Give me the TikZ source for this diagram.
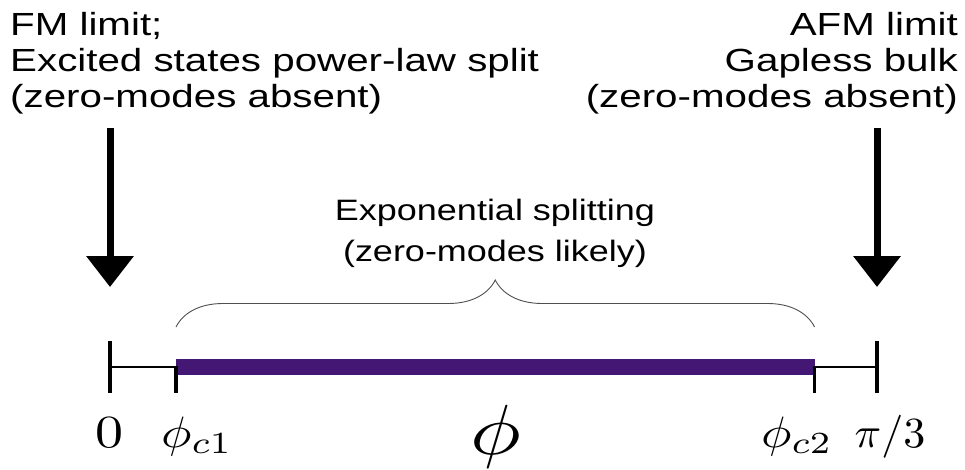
\documentclass[tikz,border=0pt]{standalone}
\usepackage[no-math]{fontspec}
\newfontfamily\labelsans{Liberation Sans}
\usetikzlibrary{arrows.meta,decorations.pathreplacing}
\definecolor{barpurple}{RGB}{69,23,117}
\definecolor{bracegray}{RGB}{80,80,80}
\tikzset{
  tickmark/.style={line width=3.3pt, black},
  thinline/.style={line width=1.3pt, black},
  bigarrow/.style={line width=7pt, -{Triangle[width=46pt,length=31pt]}},
  phasebar/.style={line width=16pt, barpurple},
  bracestyle/.style={bracegray, line width=0.9pt, decorate, decoration={brace, amplitude=47pt}},
  toptext/.style={inner sep=0pt, font=\labelsans\fontsize{32}{36}\selectfont},
  midtext/.style={inner sep=0pt, font=\labelsans\fontsize{29.5}{40}\selectfont},
  mathlabel/.style={inner sep=0pt},
}
\begin{document}
\begin{tikzpicture}[x=1pt,y=1pt]
\useasboundingbox (0,0) rectangle (965,-470);
% axis points
\coordinate (p0) at (110,-367);
\coordinate (pc1) at (176,-367);
\coordinate (pc2) at (814.5,-367);
\coordinate (pend) at (877,-367);
% arrow ends
\coordinate (fmtop) at (110,-128);
\coordinate (fmtip) at (110,-287);
\coordinate (afmtop) at (877,-128);
\coordinate (afmtip) at (877,-287);
% brace ends
\coordinate (bl) at (176,-327);
\coordinate (br) at (814.5,-327);

% thin segments
\draw[thinline] (p0) -- (pc1);
\draw[thinline] (pc2) -- (pend);
% purple bar
\draw[phasebar] (pc1) -- (pc2);
% ticks
\draw[tickmark] ([yshift=26pt]p0) -- ([yshift=-26pt]p0);
\draw[tickmark] ([yshift=1pt]pc1) -- ([yshift=-26pt]pc1);
\draw[tickmark] ([yshift=1pt]pc2) -- ([yshift=-26pt]pc2);
\draw[tickmark] ([yshift=26pt]pend) -- ([yshift=-26pt]pend);

% brace
\draw[bracestyle] (bl) -- (br);

% arrows
\draw[bigarrow] (fmtop) -- (fmtip);
\draw[bigarrow] (afmtop) -- (afmtip);

% texts
\node[toptext, anchor=base west] (fmtext) at (10,-36)
  {\scalebox{1.26}[1]{\begin{tabular}[t]{@{}l@{}}FM limit;\\Excited states power-law split\\(zero-modes absent)\end{tabular}}};
\node[toptext, anchor=base east] (afmtext) at (958,-36)
  {\scalebox{1.26}[1]{\begin{tabular}[t]{@{}r@{}}AFM limit\\Gapless bulk\\(zero-modes absent)\end{tabular}}};
\node[midtext, anchor=base] (exptext) at (495,-221)
  {\scalebox{1.22}[1]{\begin{tabular}[t]{@{}c@{}}Exponential splitting\\(zero-modes likely)\end{tabular}}};

% axis labels
\node[mathlabel, anchor=base] (lzero) at (109,-447) {\scalebox{5.6}[4.6]{$0$}};
\node[mathlabel, anchor=base west] (lc1) at (161,-447) {\scalebox{5.1}[4.4]{$\phi_{c1}$}};
\node[mathlabel, anchor=base] (lphi) at (496,-454) {\scalebox{8.5}[7.1]{$\phi$}};
\node[mathlabel, anchor=base west] (lc2) at (761,-447) {\scalebox{5.1}[4.4]{$\phi_{c2}$}};
\node[mathlabel, anchor=base] (lpi) at (890,-447) {\scalebox{4.4}[4.3]{$\pi/3$}};
\end{tikzpicture}
\end{document}
